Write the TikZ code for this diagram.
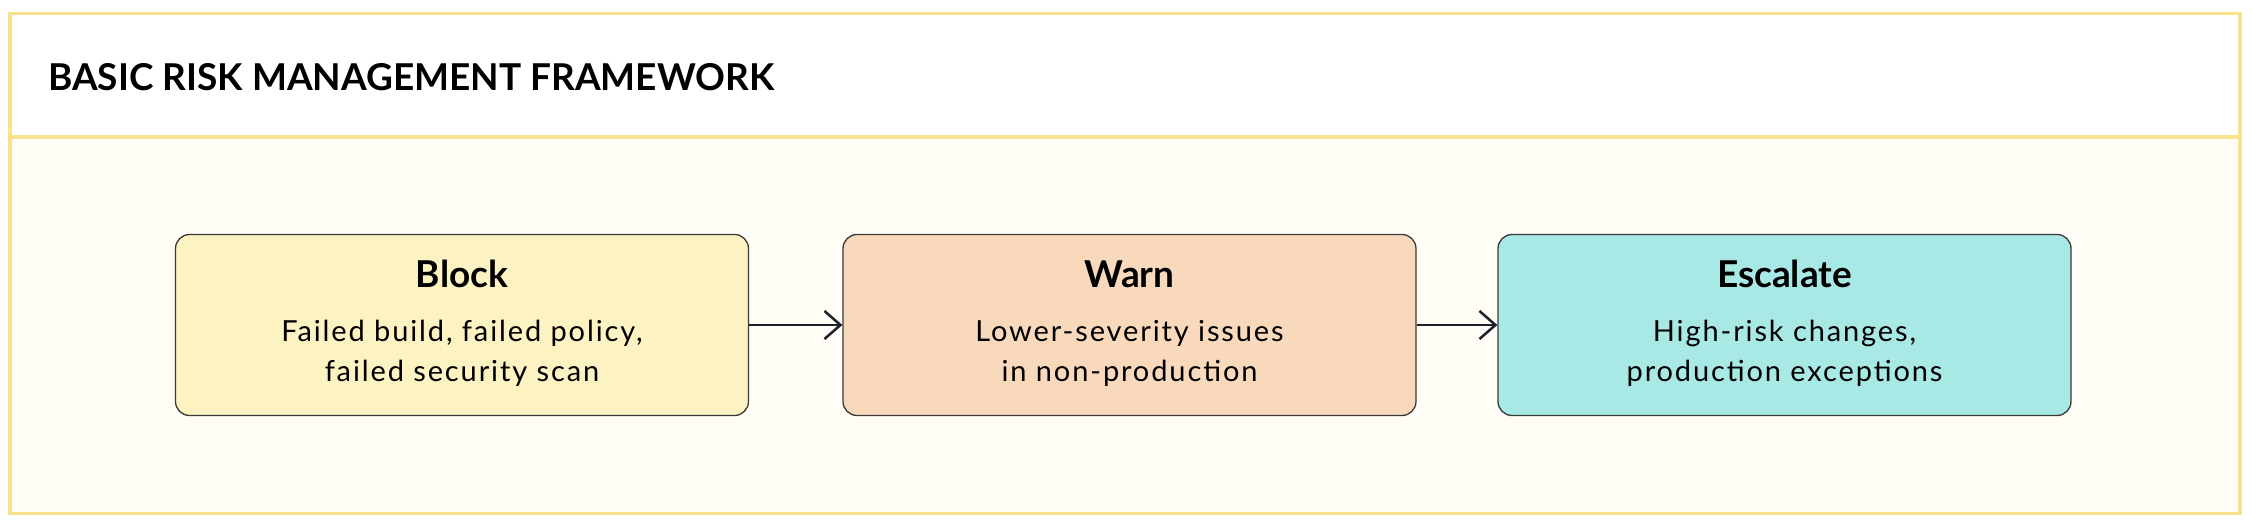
\documentclass[tikz,border=0pt]{standalone}
\usepackage{fontspec}
\setmainfont{Lato}
\newfontfamily\stagebody[LetterSpace=6.5]{Lato}
\usetikzlibrary{arrows.meta}
\definecolor{frameY}{HTML}{F8E38C}
\definecolor{bodyBg}{HTML}{FFFDF6}
\definecolor{blockF}{HTML}{FCF2C2}
\definecolor{warnF}{HTML}{F8D9BC}
\definecolor{escF}{HTML}{A8E9E5}
\definecolor{edgeC}{HTML}{3A3A3A}
\definecolor{arrC}{HTML}{1A202C}
\tikzset{
  stagebox/.style={draw=edgeC, line width=1.3pt, rounded corners=14pt, minimum width=573pt, minimum height=181pt, inner sep=0pt},
  stagetitle/.style={anchor=base, font=\fontsize{37}{44}\selectfont\bfseries},
  stagetext/.style={anchor=base, font=\stagebody\fontsize{29}{40}\selectfont},
  flow/.style={draw=arrC, line width=2.5pt, -{Straight Barb[length=16pt,width=28pt,line width=2.5pt]}}
}
\begin{document}
\begin{tikzpicture}[x=1pt,y=-1pt]
\useasboundingbox (0,0) rectangle (2252,526);
\fill[white] (0,0) rectangle (2252,526);
\fill[white] (10,13.5) rectangle (2240,137);
\fill[bodyBg] (10,137) rectangle (2240,513.5);
\draw[frameY, line width=3.4pt] (10,13.5) rectangle (2240,513.5);
\draw[frameY, line width=3.4pt] (10,137) -- (2240,137);
\node[anchor=base west, inner sep=0pt, font=\fontsize{37}{44}\selectfont\bfseries] (title) at (48,91) {BASIC RISK MANAGEMENT FRAMEWORK};

\node[stagebox, fill=blockF] (block) at (462,325) {};
\node[stagebox, fill=warnF] (warn) at (1129.5,325) {};
\node[stagebox, fill=escF] (esc) at (1784.5,325) {};

\node[stagetitle] (blockT) at (462,288) {Block};
\node[stagetext] (blockA) at (462,342) {Failed build, failed policy,};
\node[stagetext] (blockB) at (462,382) {failed security scan};

\node[stagetitle] (warnT) at (1129.5,288) {Warn};
\node[stagetext] (warnA) at (1129.5,342) {Lower-severity issues};
\node[stagetext] (warnB) at (1129.5,382) {in non-production};

\node[stagetitle] (escT) at (1784.5,288) {Escalate};
\node[stagetext] (escA) at (1784.5,342) {High-risk changes,};
\node[stagetext] (escB) at (1784.5,382) {production exceptions};

\draw[flow] (block.east) -- (warn.west);
\draw[flow] (warn.east) -- (esc.west);
\end{tikzpicture}
\end{document}
